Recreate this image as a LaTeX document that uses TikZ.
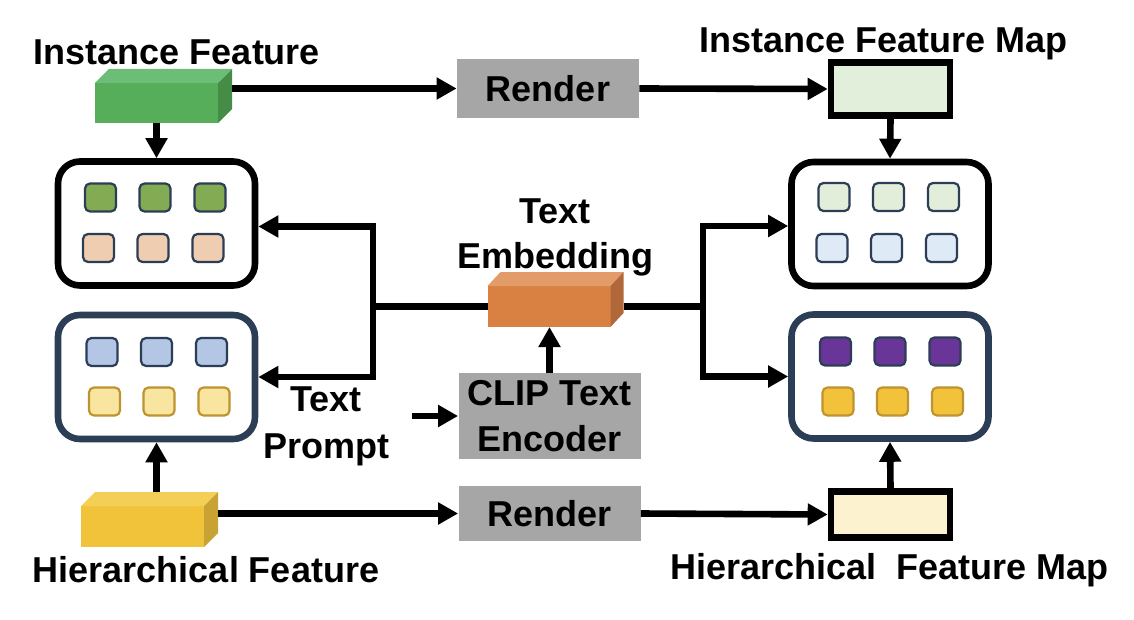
\documentclass[tikz,border=0pt]{standalone}
\usepackage{fontspec}
\setmainfont{Liberation Sans}
\usetikzlibrary{arrows.meta,calc}
\definecolor{navy}{HTML}{2C3D56}
\definecolor{gold}{HTML}{BF9330}
\definecolor{grayfill}{HTML}{A6A6A6}
\definecolor{gFront}{HTML}{56AE5A}
\definecolor{gTop}{HTML}{6CBD78}
\definecolor{gSide}{HTML}{458C47}
\definecolor{oFront}{HTML}{D98142}
\definecolor{oTop}{HTML}{E39C69}
\definecolor{oSide}{HTML}{B0683A}
\definecolor{yFront}{HTML}{F1C33A}
\definecolor{yTop}{HTML}{F4CF55}
\definecolor{ySide}{HTML}{C8A232}
\definecolor{mapG}{HTML}{E2EFDA}
\definecolor{mapY}{HTML}{FCF2D0}
\definecolor{sqGreen}{HTML}{82AB53}
\definecolor{sqPeach}{HTML}{EECDB0}
\definecolor{sqLGreen}{HTML}{E3EEDA}
\definecolor{sqLBlue}{HTML}{DEEAF6}
\definecolor{sqBlue}{HTML}{B4C6E6}
\definecolor{sqLYellow}{HTML}{F8E5A0}
\definecolor{sqPurple}{HTML}{6A3599}
\definecolor{sqYellow}{HTML}{F2C33A}
\tikzset{
  lbl/.style={font=\fontsize{18}{22.5}\selectfont\bfseries, inner sep=0pt, align=center},
  conn/.style={line width=3.3pt},
  arr/.style={conn, -{Triangle[length=10pt 0 0, width=10.5pt 0 0]}},
  panel/.style={draw, line width=3.3pt, rounded corners=11pt, fill=white,
    minimum width=98.5pt, minimum height=62pt, inner sep=0pt},
  fmap/.style={draw=black, line width=3.3pt, minimum width=59.5pt, inner sep=0pt},
  graybox/.style={fill=grayfill, inner sep=0pt, minimum width=91pt,
    font=\fontsize{18}{23}\selectfont\bfseries, align=center},
  front/.style={inner sep=0pt, outer sep=0pt, minimum width=61.5pt, minimum height=20.5pt},
  sq/.style={draw=navy, line width=1.1pt, rounded corners=2.5pt,
    minimum width=15.5pt, minimum height=14pt, inner sep=0pt},
}
\begin{document}
\begin{tikzpicture}[x=0.5pt,y=-0.5pt]
\useasboundingbox (0,0) rectangle (1134,620);

% ---- panels
\node[panel, draw=black] (lt) at (156.5,223.5) {};
\node[panel, draw=black] (rt) at (890,224) {};
\node[panel, draw=navy] (lb) at (156.5,377) {};
\node[panel, draw=navy] (rb) at (890,376.5) {};

\foreach \dx [count=\i] in {-56,-1.5,53.5} {
  \node[sq, fill=sqGreen] (lt-a-\i) at ($(lt)+(\dx,-26)$) {};
  \node[sq, fill=sqPeach] (lt-b-\i) at ($(lt)+(\dx-2,24.5)$) {};
  \node[sq, fill=sqLGreen] (rt-a-\i) at ($(rt)+(\dx,-27)$) {};
  \node[sq, fill=sqLBlue] (rt-b-\i) at ($(rt)+(\dx-2,24)$) {};
  \node[sq, fill=sqBlue] (lb-a-\i) at ($(lb)+(\dx+1.5,-25)$) {};
  \node[sq, fill=sqLYellow, draw=gold] (lb-b-\i) at ($(lb)+(\dx+4,24.5)$) {};
  \node[sq, fill=sqPurple] (rb-a-\i) at ($(rb)+(\dx+1.5,-25)$) {};
  \node[sq, fill=sqYellow, draw=gold] (rb-b-\i) at ($(rb)+(\dx+4,25)$) {};
}

% ---- 3D feature blocks
\node[front, fill=gFront, minimum height=20pt] (inst) at (156.5,103) {};
\fill[gTop] (inst.north west) -- ++(14,-14) -- ($(inst.north east)+(14,-14)$) -- (inst.north east) -- cycle;
\fill[gSide] (inst.north east) -- ++(14,-14) -- ($(inst.south east)+(14,-14)$) -- (inst.south east) -- cycle;
\coordinate (inst-side) at ($(inst.east)+(14,-7)$);
\coordinate (inst-bot) at (inst.south);

\node[front, fill=oFront] (emb) at (549,306.5) {};
\fill[oTop] (emb.north west) -- ++(13,-14) -- ($(emb.north east)+(13,-14)$) -- (emb.north east) -- cycle;
\fill[oSide] (emb.north east) -- ++(13,-14) -- ($(emb.south east)+(13,-14)$) -- (emb.south east) -- cycle;
\coordinate (emb-side) at ($(emb.east)+(13,0)$);

\node[front, fill=yFront] (hier) at (142.5,526.5) {};
\fill[yTop] (hier.north west) -- ++(14,-14) -- ($(hier.north east)+(14,-14)$) -- (hier.north east) -- cycle;
\fill[ySide] (hier.north east) -- ++(14,-14) -- ($(hier.south east)+(14,-14)$) -- (hier.south east) -- cycle;
\coordinate (hier-side) at ($(hier.east)+(14,-7)$);
\coordinate (hier-top) at ($(hier.north)+(14,-14)$);

% ---- gray boxes and maps
\node[graybox, minimum height=29.5pt] (r1) at (548,88.5) {Render};
\node[graybox, minimum height=27.5pt] (r2) at (549.5,513.5) {Render};
\node[graybox, minimum height=43pt] (clip) at (549.5,416) {CLIP Text\\Encoder};
\node[fmap, fill=mapG, minimum height=26.7pt] (map1) at (890.5,89) {};
\node[fmap, fill=mapY, minimum height=23.2pt] (map2) at (890.5,514.5) {};

% ---- labels
\node[lbl, anchor=base] (t-inst) at (177,65) {Instance Feature};
\node[lbl, anchor=base] (t-map1) at (883.5,53) {Instance Feature Map};
\node[lbl, anchor=base] (t-hier) at (206,582) {Hierarchical Feature};
\node[lbl, anchor=base] (t-map2) at (889.5,579) {Hierarchical\ \ Feature Map};
\node[lbl] (t-emb) at (555,237) {Text\\Embedding};
\node[lbl, font=\fontsize{18}{23.5}\selectfont\bfseries] (t-prompt) at (326,426) {Text\\Prompt};

% ---- connectors
\coordinate (jl) at (373,306.5);
\coordinate (jr) at (703,306.5);
\coordinate (tp) at (412,416);

\draw[arr] (inst-side |- r1.west) -- (r1.west);
\draw[arr] (r1.east) -- (map1.west);
\draw[arr] (map1.south) -- (rt.north);
\draw[arr] (inst-bot) -- (lt.north -| inst-bot);

\draw[arr] (hier-side |- r2.west) -- (r2.west);
\draw[arr] (r2.east) -- (map2.west);
\draw[arr] (map2.north) -- (rb.south);
\draw[arr] (hier-top) -- (lb.south -| hier-top);

\draw[conn] (emb.west) -- (jl);
\draw[arr] (jl) |- ($(lt.east)+(0,3)$);
\draw[arr] (jl) |- (lb.east);
\draw[conn] (emb-side) -- (jr);
\draw[arr] (jr) |- ($(rt.west)+(0,2)$);
\draw[arr] (jr) |- (rb.west);

\draw[arr] (clip.north) -- (emb.south -| clip.north);
\draw[arr] (tp) -- (clip.west);
\end{tikzpicture}
\end{document}
